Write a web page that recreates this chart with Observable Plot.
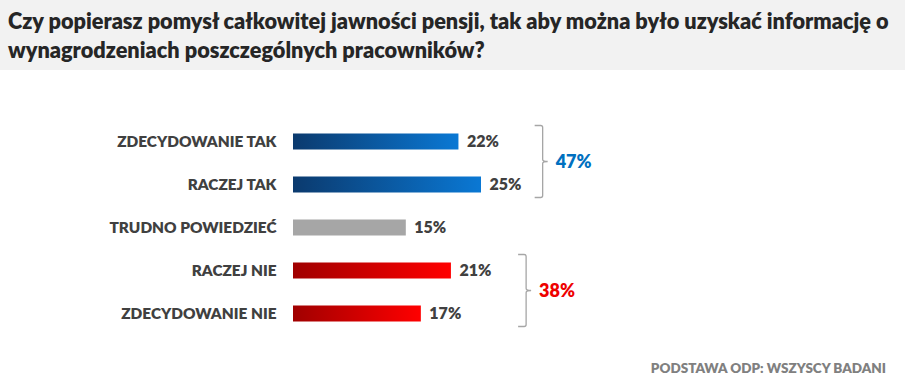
<!DOCTYPE html>
<html><head><meta charset="utf-8">
<script src="https://cdn.jsdelivr.net/npm/d3@7"></script>
<script src="https://cdn.jsdelivr.net/npm/@observablehq/plot@0.6"></script>
<style>
body{margin:0;background:#fff;font-family:Lato,"Open Sans",sans-serif;}
#title{width:905px;height:70px;background:#f2f2f2;box-sizing:border-box;padding:7px 0 0 8px;font-weight:800;font-size:21.7px;line-height:29px;color:#262626;white-space:nowrap;}
#chart svg{display:block;}
</style></head><body>
<div id="title">Czy popierasz pomysł całkowitej jawności pensji, tak aby można było uzyskać informację o<br>wynagrodzeniach poszczególnych pracowników?</div>
<div id="chart"></div>
<script>
const categories = ["ZDECYDOWANIE TAK", "RACZEJ TAK", "TRUDNO POWIEDZIEĆ", "RACZEJ NIE", "ZDECYDOWANIE NIE"];
const values = [22, 25, 15, 21, 17];
const answerGroups = ["tak", "tak", "neutral", "nie", "nie"];
const totalLabels = ["47%", "38%"];
const totalMembers = [["ZDECYDOWANIE TAK", "RACZEJ TAK"], ["RACZEJ NIE", "ZDECYDOWANIE NIE"]];
const footnote = "PODSTAWA ODP: WSZYSCY BADANI";

const data = categories.map((c, i) => ({cat: c, value: values[i], group: answerGroups[i]}));
const fills = {tak: "url(#gBlue)", neutral: "#a6a6a6", nie: "url(#gRed)"};
const totalColors = ["#0070c0", "#ee0000"];
const bracketX = [33.2, 31];

function defs() {
  const svg = d3.create("svg:defs");
  const mk = (id, a, b) => {
    const g = svg.append("linearGradient").attr("id", id).attr("x1", 0).attr("x2", 1).attr("y1", 0).attr("y2", 0);
    g.append("stop").attr("offset", 0).attr("stop-color", a);
    g.append("stop").attr("offset", 1).attr("stop-color", b);
  };
  mk("gBlue", "#0b3a6e", "#0a78d4");
  mk("gRed", "#a00000", "#ff0000");
  return svg.node();
}

function brackets(index, scales, values_, dims) {
  const x = scales.x, y = scales.y;
  const bw = y.bandwidth ? y.bandwidth() : 43;
  const g = d3.create("svg:g");
  totalMembers.forEach((mem, i) => {
    const top = y(mem[0]) + bw / 2 - 16;
    const bot = y(mem[mem.length - 1]) + bw / 2 + 13;
    const mid = (top + bot) / 2;
    const bx = x(bracketX[i]);
    g.append("path")
      .attr("d", `M${bx - 8},${top} L${bx - 2},${top} Q${bx},${top} ${bx},${top + 2} L${bx},${mid - 2} Q${bx},${mid} ${bx + 5},${mid} M${bx + 5},${mid} Q${bx},${mid} ${bx},${mid + 2} L${bx},${bot - 2} Q${bx},${bot} ${bx - 2},${bot} L${bx - 8},${bot}`)
      .attr("fill", "none").attr("stroke", "#a6a6a6").attr("stroke-width", 1.3);
    g.append("text")
      .attr("x", bx + 13).attr("y", mid).attr("dy", "0.35em").attr("text-anchor", "start")
      .attr("fill", totalColors[i]).attr("font-weight", 800).attr("font-size", 18)
      .text(totalLabels[i]);
  });
  g.append("text")
    .attr("x", dims.width - 28).attr("y", dims.height - 11)
    .attr("text-anchor", "end").attr("fill", "#808080").attr("font-weight", 800).attr("font-size", 13.5)
    .text(footnote);
  return g.node();
}

const plot = Plot.plot({
  width: 914, height: 314,
  marginLeft: 293, marginRight: 433, marginTop: 49.5, marginBottom: 49.5,
  x: {domain: [0, 25], axis: null},
  y: {domain: categories, axis: null, padding: 0},
  color: {type: "identity"},
  style: {fontFamily: "Lato, 'Open Sans', sans-serif", background: "transparent", overflow: "visible"},
  marks: [
    defs,
    Plot.barX(data, {x: "value", y: "cat", fill: d => fills[d.group], insetTop: 13.5, insetBottom: 13.5}),
    Plot.text(data, {x: 0, y: "cat", text: "cat", textAnchor: "end", dx: -17, fontWeight: 800, fontSize: 15.4, fill: "#404040"}),
    Plot.text(data, {x: "value", y: "cat", text: d => d.value + "%", textAnchor: "start", dx: 8, fontWeight: 800, fontSize: 16, fill: "#404040"}),
    brackets
  ]
});
document.getElementById("chart").appendChild(plot);
</script>
</body></html>
